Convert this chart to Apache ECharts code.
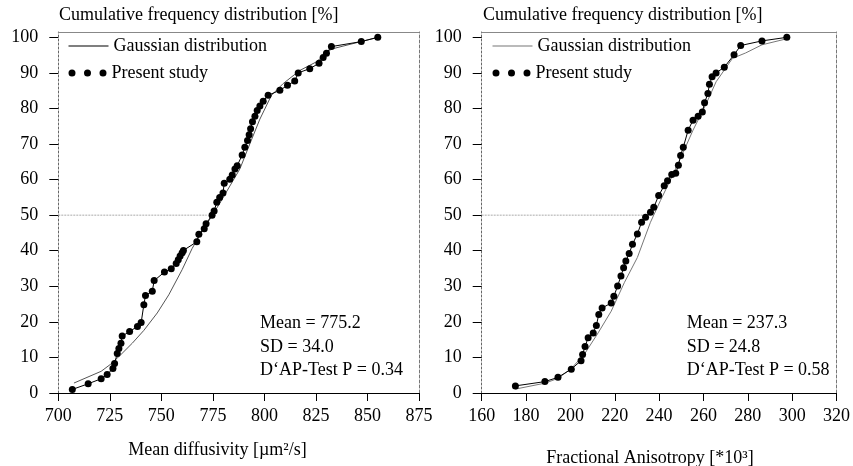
<!DOCTYPE html>
<html>
<head>
<meta charset="utf-8">
<script src="https://cdn.jsdelivr.net/npm/echarts@6/dist/echarts.min.js"></script>
<style>
html,body{margin:0;padding:0;background:#fff;}
#c{width:853px;height:466px;}
</style>
</head>
<body>
<div id="c"></div>
<script>
// ---------- data ----------
const yTickValues = [0, 10, 20, 30, 40, 50, 60, 70, 80, 90, 100];

// Left panel: Mean diffusivity
const mdStudy = [
  [706.8,1.0],[714.5,2.6],[720.8,4.0],[723.7,5.2],[726.5,6.9],[727.3,8.3],[728.6,11.1],[729.4,12.5],
  [730.4,14.0],[731.0,16.0],[734.6,17.3],[738.4,18.7],[740.2,19.8],[741.5,24.8],[742.3,27.4],[745.6,28.6],
  [746.5,31.6],[751.5,34.0],[754.8,34.9],[757.2,36.4],[758.2,37.5],[759.1,38.5],[760.1,39.4],[760.7,40.1],
  [767.2,42.5],[768.2,44.6],[770.8,46.2],[771.7,47.6],[774.6,50.0],[775.6,51.2],[776.9,53.6],[778.3,55.0],
  [779.9,56.2],[780.5,59.0],[783.2,60.1],[784.4,61.3],[785.7,63.0],[786.8,63.9],[789.2,66.9],[790.5,69.1],
  [791.8,71.0],[792.6,72.6],[793.3,74.3],[794.2,76.3],[795.4,77.8],[796.5,79.4],[797.8,80.7],[799.4,82.0],
  [801.8,83.7],[807.5,85.1],[811.2,86.5],[814.7,87.7],[816.4,90.0],[822.0,91.2],[826.5,92.7],[828.5,94.3],
  [830.1,95.5],[832.5,97.4],[847.0,98.8],[855.0,100.0]
];
const mdGauss = [
  [707.6,2.8],[720.8,6.1],[725.4,8.1],[730.2,10.7],[735.9,14.0],[741.5,17.6],[748.0,22.5],[753.6,27.6],
  [760.1,34.7],[764.9,40.6],[769.8,45.6],[774.6,49.8],[779.5,54.5],[788.1,63.0],[792.9,70.0],[797.8,77.0],
  [803.4,83.7],[809.1,87.0],[817.2,90.7],[825.2,93.1],[832.5,96.7],[855.0,100.0]
];
const mdRef = [[700,50],[772,50]];

// Right panel: Fractional anisotropy
const faStudy = [
  [175.2,2.0],[188.5,3.2],[194.4,4.4],[200.4,6.7],[204.8,9.1],[205.5,10.8],[206.6,13.1],[208.0,15.5],
  [210.3,16.9],[211.7,19.0],[212.8,22.1],[214.3,23.9],[218.4,25.3],[219.6,27.2],[221.3,30.1],[222.8,32.9],
  [224.0,35.2],[225.0,37.1],[226.5,39.2],[228.0,41.8],[230.2,44.7],[232.1,48.0],[233.9,49.4],[236.1,50.8],
  [237.6,52.2],[239.8,55.5],[242.3,58.3],[243.8,59.7],[245.7,61.4],[247.5,61.8],[248.7,64.0],[249.7,66.8],
  [250.9,69.1],[253.1,73.9],[255.3,76.7],[257.6,77.8],[259.5,79.0],[260.5,81.6],[262.0,84.2],[262.7,86.8],
  [263.9,88.9],[265.7,90.0],[269.4,91.6],[273.8,95.1],[276.8,97.7],[286.4,99.0],[297.6,100.0]
];
const faGauss = [
  [175.2,1.1],[188.8,2.8],[194.7,4.2],[200.6,7.0],[206.6,11.2],[212.5,16.9],[218.4,23.0],[224.3,31.0],
  [230.2,38.1],[236.1,48.0],[240.6,54.1],[245.7,60.7],[250.9,67.7],[255.3,73.9],[261.3,81.4],[265.7,87.5],
  [273.1,94.1],[279.0,95.6],[286.4,97.9],[297.6,99.6]
];
const faRef = [[160,50],[232.5,50]];

const statsLeft = ['Mean = 775.2', 'SD = 34.0', 'D\u2018AP-Test P = 0.34'];
const statsRight = ['Mean = 237.3', 'SD = 24.8', 'D\u2018AP-Test P = 0.58'];

// ---------- style ----------
const FONT = 'Liberation Serif, Times New Roman, serif';
const FS = 18;
const dotsIcon = 'path://M0,3.5a3.5,3.5 0 1,0 7,0a3.5,3.5 0 1,0 -7,0zM15.5,3.5a3.5,3.5 0 1,0 7,0a3.5,3.5 0 1,0 -7,0zM31,3.5a3.5,3.5 0 1,0 7,0a3.5,3.5 0 1,0 -7,0z';

const grids = [
  {left: 58.3, top: 32, width: 360.7, height: 361},
  {left: 481.7, top: 32, width: 360.5, height: 361}
];

function mainX(gi, min, max, interval) {
  return {
    type: 'value', gridIndex: gi, min, max, interval,
    axisLine: {show: true, onZero: false, lineStyle: {color: '#000', width: 1.2}},
    axisTick: {show: true, inside: false, length: 8, lineStyle: {color: '#000'}},
    axisLabel: {margin: 14, fontFamily: FONT, fontSize: FS, color: '#000'},
    splitLine: {show: false}
  };
}
function mainY(gi) {
  return {
    type: 'value', gridIndex: gi, min: 0, max: 101.5, interval: 10,
    axisLine: {show: true, onZero: false, lineStyle: {color: '#666', width: 1, type: [2, 2]}},
    axisTick: {show: true, length: 9, customValues: yTickValues, lineStyle: {color: '#000'}},
    axisLabel: {margin: 20, fontFamily: FONT, fontSize: FS, color: '#000', customValues: yTickValues},
    splitLine: {show: false}
  };
}
function frameX(gi, min, max) {
  return {type: 'value', gridIndex: gi, position: 'top', min, max,
    axisLine: {show: true, onZero: false, lineStyle: {color: '#888', width: 1}},
    axisTick: {show: false}, axisLabel: {show: false}, splitLine: {show: false}};
}
function frameY(gi) {
  return {type: 'value', gridIndex: gi, position: 'right', min: 0, max: 101.5,
    axisLine: {show: true, onZero: false, lineStyle: {color: '#777', width: 1, type: [3, 2]}},
    axisTick: {show: false}, axisLabel: {show: false}, splitLine: {show: false}};
}

function studySeries(xi, yi, data) {
  return {name: 'Present study', type: 'line', xAxisIndex: xi, yAxisIndex: yi, data,
    symbol: 'circle', symbolSize: 7, showAllSymbol: true, z: 5,
    itemStyle: {color: '#000', borderWidth: 0},
    lineStyle: {color: '#000', width: 1}};
}
function gaussSeries(xi, yi, data, color) {
  return {name: 'Gaussian distribution', type: 'line', xAxisIndex: xi, yAxisIndex: yi, data,
    symbol: 'none', z: 4, itemStyle: {color}, lineStyle: {color, width: 1}};
}
function refSeries(xi, yi, data) {
  return {name: 'ref', type: 'line', xAxisIndex: xi, yAxisIndex: yi, data, symbol: 'none', z: 2,
    lineStyle: {color: '#aaa', width: 1, type: [2, 1]}};
}
function legendPair(x, gaussColor) {
  const ts = {fontFamily: FONT, fontSize: FS, color: '#000'};
  return [
    {left: x, top: 37, padding: 0, orient: 'horizontal', selectedMode: false, itemWidth: 40, itemHeight: 1,
      textStyle: ts, data: [{name: 'Gaussian distribution', icon: 'rect', itemStyle: {color: gaussColor, borderWidth: 0}}]},
    {left: x, top: 64, padding: 0, orient: 'horizontal', selectedMode: false, itemWidth: 38, itemHeight: 7,
      textStyle: ts, data: [{name: 'Present study', icon: dotsIcon, itemStyle: {color: '#000', borderWidth: 0}}]}
  ];
}
function txt(x, y, text, align) {
  return {type: 'text', x, y, silent: true,
    style: {text, font: FS + 'px ' + FONT, fill: '#000', align: align || 'left', verticalAlign: 'middle'}};
}

const option = {
  animation: false,
  backgroundColor: '#fff',
  grid: grids,
  xAxis: [
    mainX(0, 700, 875, 25), mainX(1, 160, 320, 20),
    frameX(0, 700, 875), frameX(1, 160, 320)
  ],
  yAxis: [mainY(0), mainY(1), frameY(0), frameY(1)],
  legend: [].concat(legendPair(68.5, '#000'), legendPair(492.5, '#777')),
  series: [
    refSeries(0, 0, mdRef),
    gaussSeries(0, 0, mdGauss, '#555'),
    studySeries(0, 0, mdStudy),
    refSeries(1, 1, faRef),
    gaussSeries(1, 1, faGauss, '#777'),
    studySeries(1, 1, faStudy)
  ],
  graphic: [
    txt(59, 15, 'Cumulative frequency distribution [%]'),
    txt(483, 15, 'Cumulative frequency distribution [%]'),
    txt(217.5, 450, 'Mean diffusivity [\u00b5m\u00b2/s]', 'center'),
    txt(650, 458, 'Fractional Anisotropy [*10\u00b3]', 'center'),
    txt(260, 323, statsLeft[0]), txt(260, 347, statsLeft[1]), txt(260, 370, statsLeft[2]),
    txt(686.7, 323, statsRight[0]), txt(686.7, 347, statsRight[1]), txt(686.7, 370, statsRight[2])
  ]
};

const chart = echarts.init(document.getElementById('c'), null, {renderer: 'canvas'});
chart.setOption(option);
</script>
</body>
</html>
